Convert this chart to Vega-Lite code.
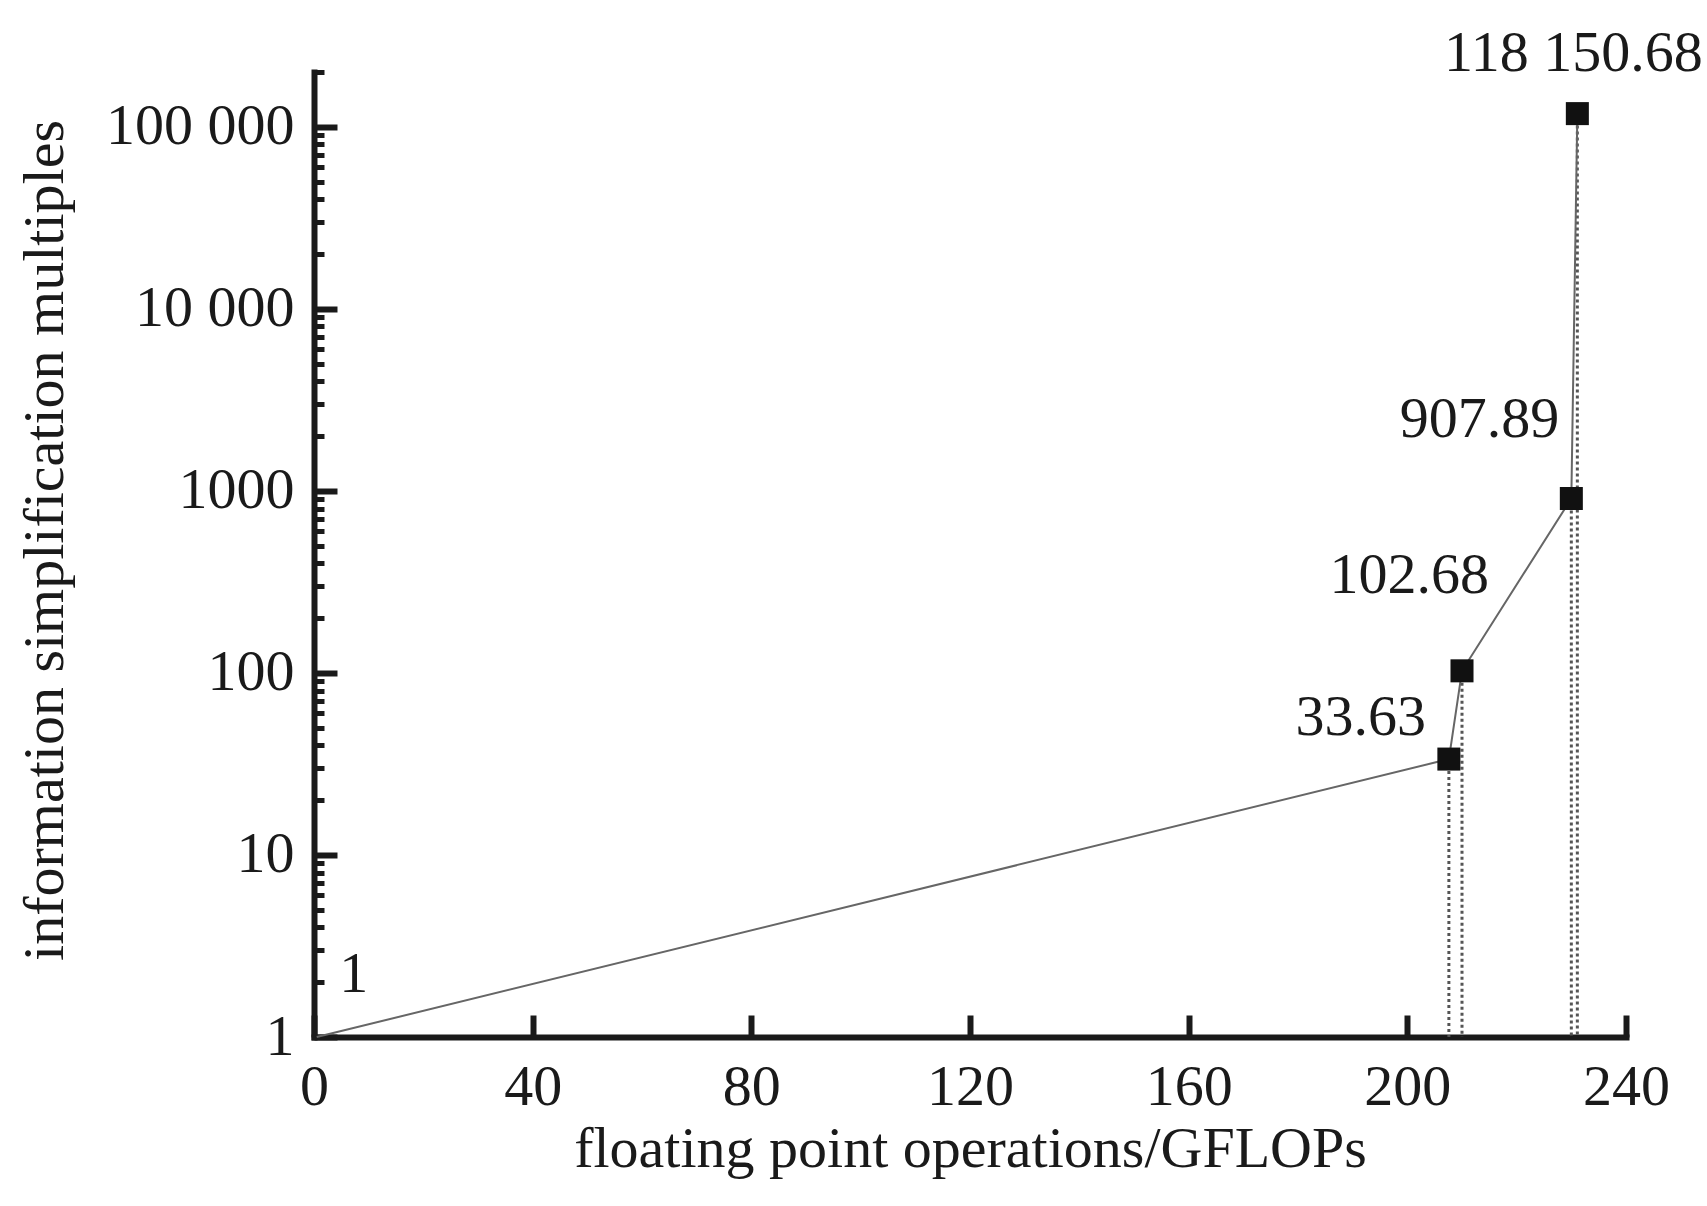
{
  "$schema": "https://vega.github.io/schema/vega-lite/v6.json",
  "autosize": {"type": "none"},
  "width": 1312,
  "height": 965,
  "padding": {"left": 314, "top": 72, "right": 81, "bottom": 169},
  "background": "white",
  "config": {
    "view": {"stroke": null},
    "font": "Liberation Serif",
    "axis": {"grid": false}
  },
  "data": {
    "values": [
      {"gflops": 0.5, "multiple": 1, "label": "1"},
      {"gflops": 207.6, "multiple": 33.63, "label": "33.63"},
      {"gflops": 210.0, "multiple": 102.68, "label": "102.68"},
      {"gflops": 230.0, "multiple": 907.89, "label": "907.89"},
      {"gflops": 231.1, "multiple": 118150.68, "label": "118 150.68"}
    ]
  },
  "encoding": {
    "x": {
      "field": "gflops",
      "type": "quantitative",
      "scale": {"domain": [0, 240], "nice": false, "zero": false},
      "axis": {
        "values": [0, 40, 80, 120, 160, 200, 240],
        "tickSize": -22,
        "tickWidth": 6,
        "tickColor": "#1a1a1a",
        "domainColor": "#1a1a1a",
        "domainWidth": 6,
        "domainCap": "square",
        "labelFont": "Liberation Serif",
        "labelFontSize": 58,
        "labelColor": "#1a1a1a",
        "labelPadding": 43,
        "labelFlush": false,
        "labelOverlap": false,
        "labelBound": false,
        "labelLimit": 0,
        "title": "floating point operations/GFLOPs",
        "titleFont": "Liberation Serif",
        "titleFontSize": 58,
        "titleFontWeight": "normal",
        "titleColor": "#1a1a1a",
        "titlePadding": 4
      }
    }
  },
  "resolve": {"axis": {"y": "independent"}},
  "layer": [
    {
      "transform": [{"filter": "datum.multiple > 1"}],
      "mark": {"type": "rule", "color": "#555", "strokeWidth": 3, "strokeDash": [3, 3]},
      "encoding": {
        "y": {
          "field": "multiple",
          "type": "quantitative",
          "scale": {"type": "log", "domain": [1, 200000], "nice": false},
          "axis": {
            "orient": "left",
            "values": [1, 10, 100, 1000, 10000, 100000],
            "tickSize": -23,
            "tickWidth": 6,
            "tickColor": "#1a1a1a",
            "domainColor": "#1a1a1a",
            "domainWidth": 6,
            "domainCap": "square",
            "labelFont": "Liberation Serif",
            "labelFontSize": 58,
            "labelColor": "#1a1a1a",
            "labelPadding": 43,
            "labelLimit": 0,
            "labelOverlap": false,
            "labelBound": false,
            "labelFlush": false,
            "labelExpr": "datum.value == 100000 ? '100 000' : datum.value == 10000 ? '10 000' : format(datum.value, 'd')",
            "title": "information simplification multiples",
            "titleFont": "Liberation Serif",
            "titleFontSize": 58,
            "titleFontWeight": "normal",
            "titleColor": "#1a1a1a",
            "titlePadding": 40,
            "titleY": 468
          }
        },
        "y2": {"datum": 1}
      }
    },
    {
      "mark": {"type": "line", "color": "#666", "strokeWidth": 2},
      "encoding": {
        "y": {
          "field": "multiple",
          "type": "quantitative",
          "scale": {"type": "log", "domain": [1, 200000], "nice": false},
          "axis": {
            "orient": "left",
            "values": [2, 3, 4, 5, 6, 7, 8, 9, 20, 30, 40, 50, 60, 70, 80, 90, 200, 300, 400, 500, 600, 700, 800, 900, 2000, 3000, 4000, 5000, 6000, 7000, 8000, 9000, 20000, 30000, 40000, 50000, 60000, 70000, 80000, 90000, 200000],
            "tickSize": -10,
            "tickWidth": 5,
            "tickColor": "#1a1a1a",
            "domain": false,
            "labels": false,
            "title": null
          }
        }
      }
    },
    {
      "transform": [{"filter": "datum.multiple > 1"}],
      "mark": {"type": "point", "shape": "square", "filled": true, "size": 530, "color": "#111", "opacity": 1},
      "encoding": {
        "y": {"field": "multiple", "type": "quantitative", "scale": {"type": "log", "domain": [1, 200000], "nice": false}, "axis": null}
      }
    },
    {
      "transform": [{"filter": "datum.label == '1'"}],
      "mark": {"type": "text", "font": "Liberation Serif", "fontSize": 58, "color": "#1a1a1a", "align": "center", "baseline": "middle", "dx": 37, "dy": -62},
      "encoding": {
        "y": {"field": "multiple", "type": "quantitative", "scale": {"type": "log", "domain": [1, 200000], "nice": false}, "axis": null},
        "text": {"field": "label"}
      }
    },
    {
      "transform": [{"filter": "datum.label == '33.63'"}],
      "mark": {"type": "text", "font": "Liberation Serif", "fontSize": 58, "color": "#1a1a1a", "align": "right", "baseline": "middle", "dx": -23, "dy": -41},
      "encoding": {
        "y": {"field": "multiple", "type": "quantitative", "scale": {"type": "log", "domain": [1, 200000], "nice": false}, "axis": null},
        "text": {"field": "label"}
      }
    },
    {
      "transform": [{"filter": "datum.label == '102.68'"}],
      "mark": {"type": "text", "font": "Liberation Serif", "fontSize": 58, "color": "#1a1a1a", "align": "right", "baseline": "middle", "dx": 27, "dy": -95},
      "encoding": {
        "y": {"field": "multiple", "type": "quantitative", "scale": {"type": "log", "domain": [1, 200000], "nice": false}, "axis": null},
        "text": {"field": "label"}
      }
    },
    {
      "transform": [{"filter": "datum.label == '907.89'"}],
      "mark": {"type": "text", "font": "Liberation Serif", "fontSize": 58, "color": "#1a1a1a", "align": "right", "baseline": "middle", "dx": -12, "dy": -79},
      "encoding": {
        "y": {"field": "multiple", "type": "quantitative", "scale": {"type": "log", "domain": [1, 200000], "nice": false}, "axis": null},
        "text": {"field": "label"}
      }
    },
    {
      "transform": [{"filter": "datum.label == '118 150.68'"}],
      "mark": {"type": "text", "font": "Liberation Serif", "fontSize": 58, "color": "#1a1a1a", "align": "center", "baseline": "middle", "dx": -4, "dy": -60},
      "encoding": {
        "y": {"field": "multiple", "type": "quantitative", "scale": {"type": "log", "domain": [1, 200000], "nice": false}, "axis": null},
        "text": {"field": "label"}
      }
    }
  ]
}
